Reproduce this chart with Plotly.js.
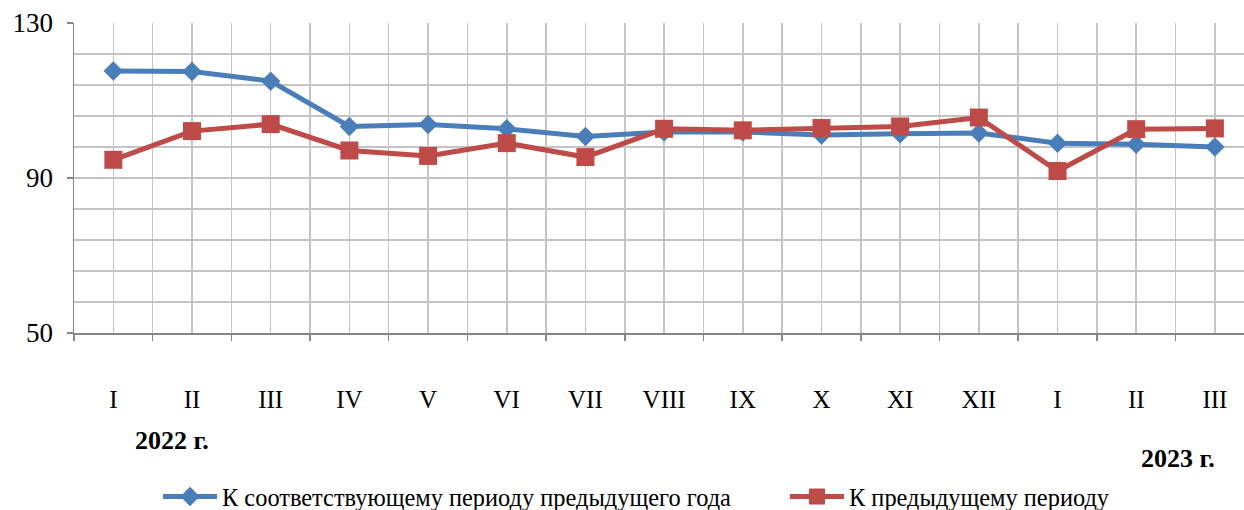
<!DOCTYPE html>
<html>
<head>
<meta charset="utf-8">
<script src="https://cdn.plot.ly/plotly-3.0.1.min.js"></script>
<style>
html,body{margin:0;padding:0;background:#fff;overflow:hidden;}
#chart{width:1244px;height:510px;}
</style>
</head>
<body>
<div id="chart"></div>
<script>
const monthLabels = ["I","II","III","IV","V","VI","VII","VIII","IX","X","XI","XII","I","II","III"];
const seriesNames = ["К соответствующему периоду предыдущего года", "К предыдущему периоду"];
const yoyValues = [117.6, 117.5, 115.0, 103.3, 103.8, 102.7, 100.7, 101.9, 101.9, 101.1, 101.4, 101.6, 99.0, 98.7, 98.0];
const popValues = [94.7, 102.1, 103.9, 97.1, 95.7, 99.0, 95.4, 102.7, 102.3, 102.9, 103.3, 105.6, 91.8, 102.6, 102.8];
const yTicks = [50, 90, 130];
const yearLabels = ["2022 г.", "2023 г."];

const xIdx = monthLabels.map((_, i) => i);
const FONT = "Liberation Serif";
const GRID = "#c4c4c4";

const traces = [
  {
    x: xIdx, y: yoyValues, name: seriesNames[0], type: "scatter", mode: "lines+markers",
    line: {color: "#4A7EBB", width: 5},
    marker: {symbol: "diamond", size: 15, color: "#4A7EBB"},
    legend: "legend"
  },
  {
    x: xIdx, y: popValues, name: seriesNames[1], type: "scatter", mode: "lines+markers",
    line: {color: "#BE4B48", width: 5},
    marker: {symbol: "square", size: 18, color: "#BE4B48"},
    legend: "legend2"
  }
];

const legendBase = {
  orientation: "h", xref: "container", yref: "container",
  y: 0.026, xanchor: "left", yanchor: "middle",
  font: {family: FONT, size: 24.4, color: "#000"},
  itemwidth: 54, bgcolor: "rgba(0,0,0,0)"
};

const layout = {
  width: 1244, height: 510,
  margin: {l: 74, r: 0, t: 23, b: 177},
  paper_bgcolor: "#fff", plot_bgcolor: "#fff",
  font: {family: FONT, size: 24, color: "#000"},
  showlegend: true,
  legend: Object.assign({}, legendBase, {x: 0.127}),
  legend2: Object.assign({}, legendBase, {x: 0.631}),
  xaxis: {
    range: [-0.5, 14.37], fixedrange: true,
    tickmode: "array", tickvals: xIdx, ticktext: monthLabels,
    ticks: "", showgrid: true, gridcolor: GRID, gridwidth: 1.5,
    showline: true, linecolor: "#868686", linewidth: 1.5,
    ticklabelstandoff: 43,
    tickfont: {family: FONT, size: 25, color: "#000"},
    zeroline: false,
    minor: {tickmode: "linear", tick0: -0.5, dtick: 1, showgrid: true, gridcolor: GRID, gridwidth: 1.5,
            ticks: "outside", ticklen: 6, tickcolor: "#868686", tickwidth: 1.5}
  },
  yaxis: {
    range: [50, 130], fixedrange: true,
    tickmode: "array", tickvals: yTicks, ticktext: yTicks.map(String),
    ticks: "outside", ticklen: 6, tickcolor: "#868686", tickwidth: 1.5,
    showgrid: true, gridcolor: GRID, gridwidth: 1.5,
    showline: true, linecolor: "#868686", linewidth: 1.5,
    zeroline: false,
    tickfont: {family: FONT, size: 27, color: "#000"},
    ticklabelstandoff: 8,
    minor: {tickmode: "linear", tick0: 50, dtick: 8, showgrid: true, gridcolor: GRID, gridwidth: 1.5, ticks: ""}
  },
  annotations: [
    {text: "<b>" + yearLabels[0] + "</b>", xref: "x", yref: "paper", x: 0.75, y: -0.346,
     showarrow: false, xanchor: "center", yanchor: "middle", font: {family: FONT, size: 26, color: "#000"}},
    {text: "<b>" + yearLabels[1] + "</b>", xref: "x", yref: "paper", x: 13.53, y: -0.404,
     showarrow: false, xanchor: "center", yanchor: "middle", font: {family: FONT, size: 26, color: "#000"}}
  ]
};

Plotly.newPlot("chart", traces, layout, {displayModeBar: false, staticPlot: true});
</script>
</body>
</html>
